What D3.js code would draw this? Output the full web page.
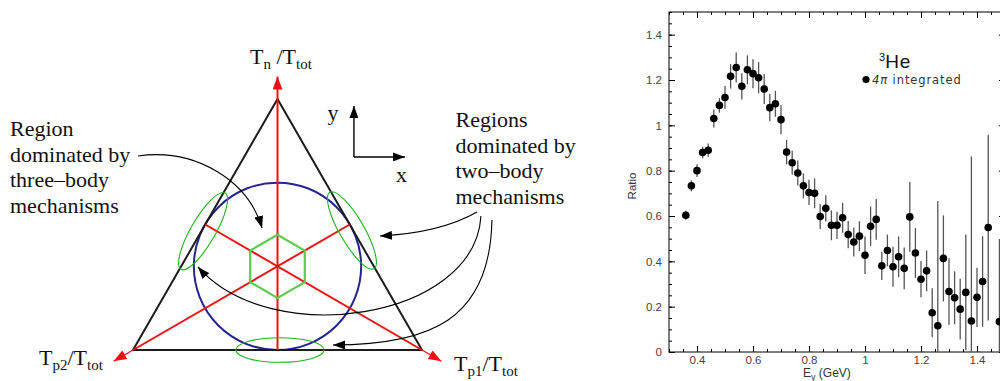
<!DOCTYPE html>
<html lang="en">
<head>
<meta charset="UTF-8">
<title>Three-body regions and 3He ratio</title>
<script src="https://d3js.org/d3.v7.min.js"></script>
<style>
  body { margin: 0; background: #fff; }
  svg { display: block; }
  .serif { font-family: "Liberation Serif", "Times New Roman", serif; fill: #111; }
  .tick text { font-family: "Liberation Sans", Arial, sans-serif; font-size: 11.5px; fill: #444; }
  .sans { font-family: "Liberation Sans", Arial, sans-serif; fill: #333; }
</style>
</head>
<body>
<svg width="1000" height="381"></svg>

<script>
    // ---- right panel data ----
    const energy = [0.36, 0.38, 0.40, 0.42, 0.44, 0.46, 0.48, 0.50, 0.52, 0.54,
                    0.56, 0.58, 0.60, 0.62, 0.64, 0.66, 0.68, 0.70, 0.72, 0.74,
                    0.76, 0.78, 0.80, 0.82, 0.84, 0.86, 0.88, 0.90, 0.92, 0.94,
                    0.96, 0.98, 1.00, 1.02, 1.04, 1.06, 1.08, 1.10, 1.12, 1.14,
                    1.16, 1.18, 1.20, 1.22, 1.24, 1.26, 1.28, 1.30, 1.32, 1.34,
                    1.36, 1.38, 1.40, 1.42, 1.44, 1.48];
    const ratio = [0.603, 0.733, 0.80, 0.88, 0.89, 1.03, 1.088, 1.123, 1.216, 1.255,
                   1.172, 1.245, 1.228, 1.21, 1.16, 1.078, 1.095, 1.025, 0.882, 0.835,
                   0.79, 0.733, 0.704, 0.70, 0.598, 0.634, 0.559, 0.559, 0.592, 0.518,
                   0.485, 0.511, 0.427, 0.555, 0.585, 0.38, 0.448, 0.376, 0.42, 0.369,
                   0.596, 0.437, 0.321, 0.358, 0.173, 0.116, 0.413, 0.267, 0.239, 0.189,
                   0.263, 0.137, 0.241, 0.311, 0.549, 0.134];
    const ratioErr = [0.02, 0.024, 0.028, 0.026, 0.03, 0.04, 0.032, 0.05, 0.054, 0.066,
                      0.058, 0.064, 0.064, 0.069, 0.066, 0.06, 0.057, 0.064, 0.054, 0.053,
                      0.055, 0.055, 0.056, 0.066, 0.055, 0.058, 0.066, 0.06, 0.066, 0.06,
                      0.064, 0.066, 0.083, 0.087, 0.09, 0.062, 0.07, 0.088, 0.09, 0.092,
                      0.154, 0.11, 0.08, 0.09, 0.108, 0.55, 0.19, 0.147, 0.117, 0.134,
                      0.255, 0.725, 0.131, 0.2, 0.41, 0.365];
    const xTickVals = [0.4, 0.6, 0.8, 1.0, 1.2, 1.4];
    const yTickVals = [0, 0.2, 0.4, 0.6, 0.8, 1.0, 1.2, 1.4];

    // ---- left panel texts ----
    const noteThree = ["Region", "dominated by", "three\u2013body", "mechanisms"];
    const noteTwo = ["Regions", "dominated by", "two\u2013body", "mechanisms"];
    const cornerLabels = [
        {sub: "n", gap: " ", x: 250, y: 64},
        {sub: "p2", gap: "", x: 39, y: 365},
        {sub: "p1", gap: "", x: 454, y: 371}
    ];

    let svg = d3.select("svg");
    const s3 = Math.sqrt(3);

    // diagram units: triangle side = 2, base centre at (0,0)
    const tx = d3.scaleLinear().domain([-1, 1]).range([133, 422]);
    const ty = d3.scaleLinear().domain([0, s3]).range([350, 99]);
    const P = (u, v) => [tx(u), ty(v)];
    const unitPx = tx(1) - tx(0);

    const defs = svg.append("defs");
    function head(id, color, len, wid) {
        defs.append("marker").attr("id", id)
            .attr("viewBox", `0 ${-wid / 2} ${len} ${wid}`)
            .attr("refX", len).attr("refY", 0)
            .attr("markerWidth", len).attr("markerHeight", wid)
            .attr("markerUnits", "userSpaceOnUse")
            .attr("orient", "auto")
            .append("path")
            .attr("d", `M0,${-wid / 2}L${len},0L0,${wid / 2}Z`)
            .attr("fill", color);
    }
    head("redHead", "#ee1111", 13, 10);
    head("blackHead", "#000", 12, 9);

    const diag = svg.append("g");

    // inscribed circle
    diag.append("circle")
        .attr("cx", tx(0)).attr("cy", ty(s3 / 3))
        .attr("r", ty(0) - ty(s3 / 3))
        .attr("fill", "none").attr("stroke", "#25258f").attr("stroke-width", 2);

    // triangle
    const verts = [[0, s3], [-1, 0], [1, 0]];
    diag.append("path")
        .attr("d", d3.line()(verts.map(d => P(d[0], d[1]))) + "Z")
        .attr("fill", "none").attr("stroke", "#1c1c1c").attr("stroke-width", 2)
        .attr("stroke-linejoin", "miter");

    // medians, extended past each vertex into an arrow
    const mids = [[0, 0], [0.5, s3 / 2], [-0.5, s3 / 2]];
    verts.forEach(function (v, i) {
        const m = mids[i];
        const dx = v[0] - m[0], dy = v[1] - m[1];
        const len = Math.hypot(dx, dy);
        const tip = [v[0] + 0.155 * dx / len, v[1] + 0.155 * dy / len];
        diag.append("line")
            .attr("x1", tx(m[0])).attr("y1", ty(m[1]))
            .attr("x2", tx(v[0])).attr("y2", ty(v[1]))
            .attr("stroke", "#ee1111").attr("stroke-width", 2);
        diag.append("line")
            .attr("x1", tx(v[0])).attr("y1", ty(v[1]))
            .attr("x2", tx(tip[0])).attr("y2", ty(tip[1]))
            .attr("stroke", "#ee1111").attr("stroke-width", i === 0 ? 2 : 1.2)
            .attr("marker-end", "url(#redHead)");
    });

    // central hexagon
    const hexR = 0.218;
    const hex = d3.range(6).map(k => {
        const a = Math.PI / 2 + k * Math.PI / 3;
        return P(hexR * Math.cos(a), s3 / 3 + hexR * Math.sin(a));
    });
    diag.append("path")
        .attr("d", d3.line()(hex) + "Z")
        .attr("fill", "none").attr("stroke", "#5ccc4c").attr("stroke-width", 2.2);

    // two-body ellipses
    const ellipses = [
        {u: 0.017, v: 0, rot: 0},
        {u: -0.515, v: 0.82, rot: -60},
        {u: 0.515, v: 0.825, rot: 60}
    ];
    diag.selectAll("ellipse.tb").data(ellipses).enter().append("ellipse")
        .attr("transform", d => `translate(${tx(d.u)},${ty(d.v)}) rotate(${d.rot})`)
        .attr("rx", 0.305 * unitPx).attr("ry", 0.085 * unitPx)
        .attr("fill", "none").attr("stroke", "#1db31d").attr("stroke-width", 1.1);

    // annotation arrows
    function curve(pts) {
        const p = d3.path();
        const q = pts.map(d => P(d[0], d[1]));
        p.moveTo(q[0][0], q[0][1]);
        if (q.length === 3) p.quadraticCurveTo(q[1][0], q[1][1], q[2][0], q[2][1]);
        else p.bezierCurveTo(q[1][0], q[1][1], q[2][0], q[2][1], q[3][0], q[3][1]);
        return p.toString();
    }
    const arrows = [
        [[-0.965, 1.339], [-0.571, 1.394], [-0.204, 1.173], [-0.107, 0.842]],
        [[1.381, 0.952], [1.125, 0.807], [0.709, 0.787]],
        [[1.408, 0.925], [1.367, 0.207], [-0.052, 0.0], [-0.55, 0.573]],
        [[1.484, 0.897], [1.471, 0.207], [1.055, 0.035], [0.384, 0.035]]
    ];
    diag.selectAll("path.note").data(arrows).enter().append("path")
        .attr("d", curve)
        .attr("fill", "none").attr("stroke", "#000").attr("stroke-width", 1.1)
        .attr("marker-end", "url(#blackHead)");

    // small x/y frame
    const o = [0.529, 1.332];
    diag.append("line")
        .attr("x1", tx(o[0])).attr("y1", ty(o[1]))
        .attr("x2", tx(o[0])).attr("y2", ty(1.684))
        .attr("stroke", "#000").attr("stroke-width", 1.4)
        .attr("marker-end", "url(#blackHead)");
    diag.append("line")
        .attr("x1", tx(o[0])).attr("y1", ty(o[1]))
        .attr("x2", tx(0.882)).attr("y2", ty(o[1]))
        .attr("stroke", "#000").attr("stroke-width", 1.4)
        .attr("marker-end", "url(#blackHead)");
    diag.append("text").attr("class", "serif").attr("x", 333).attr("y", 120)
        .attr("text-anchor", "middle").style("font-size", "22px").text("y");
    diag.append("text").attr("class", "serif").attr("x", 401.5).attr("y", 181.5)
        .attr("text-anchor", "middle").style("font-size", "22px").text("x");

    // note texts
    function note(lines, x, y0) {
        const t = diag.append("text").attr("class", "serif").style("font-size", "22px");
        lines.forEach((s, i) => t.append("tspan").attr("x", x).attr("y", y0 + i * 25.6).text(s));
    }
    note(noteThree, 10, 136);
    note(noteTwo, 455.5, 127);

    // corner labels T_x / T_tot
    cornerLabels.forEach(function (c) {
        const t = diag.append("text").attr("class", "serif")
            .attr("x", c.x).attr("y", c.y).style("font-size", "22px");
        t.append("tspan").text("T");
        t.append("tspan").attr("dy", 4.5).style("font-size", "15px").text(c.sub);
        t.append("tspan").attr("dy", -4.5).text(c.gap + "/T");
        t.append("tspan").attr("dy", 4.5).style("font-size", "15px").text("tot");
    });

    // ---- right panel ----
    const xS = d3.scaleLinear().domain([0.3, 1.5]).range([669, 1005]);
    const yS = d3.scaleLinear().domain([0, 1.5]).range([352, 12]);
    const fmt = d => String(+d.toFixed(1));
    const chart = svg.append("g");

    defs.append("clipPath").attr("id", "plotClip").append("rect")
        .attr("x", xS(0.3)).attr("y", yS(1.5))
        .attr("width", xS(1.5) - xS(0.3)).attr("height", yS(0) - yS(1.5));

    function axisG(axis, tr) {
        const g = chart.append("g").attr("transform", tr).call(axis);
        g.select(".domain").remove();
        g.selectAll(".tick line").attr("stroke", "#000");
        return g;
    }
    const xMinor = xS.ticks(24), yMinor = yS.ticks(30);
    axisG(d3.axisBottom(xS).tickValues(xMinor).tickSize(-3).tickFormat(""), `translate(0,${yS(0)})`);
    axisG(d3.axisTop(xS).tickValues(xMinor).tickSize(-3).tickFormat(""), `translate(0,${yS(1.5)})`);
    axisG(d3.axisLeft(yS).tickValues(yMinor).tickSize(-3).tickFormat(""), `translate(${xS(0.3)},0)`);
    axisG(d3.axisRight(yS).tickValues(yMinor).tickSize(-3).tickFormat(""), `translate(${xS(1.5)},0)`);
    axisG(d3.axisBottom(xS).tickValues(xTickVals).tickSize(-6).tickPadding(4).tickFormat(fmt), `translate(0,${yS(0)})`);
    axisG(d3.axisTop(xS).tickValues(xTickVals).tickSize(-6).tickFormat(""), `translate(0,${yS(1.5)})`);
    axisG(d3.axisLeft(yS).tickValues(yTickVals).tickSize(-6).tickPadding(7).tickFormat(fmt), `translate(${xS(0.3)},0)`);
    axisG(d3.axisRight(yS).tickValues(yTickVals).tickSize(-6).tickFormat(""), `translate(${xS(1.5)},0)`);

    chart.append("rect")
        .attr("x", xS(0.3)).attr("y", yS(1.5))
        .attr("width", xS(1.5) - xS(0.3)).attr("height", yS(0) - yS(1.5))
        .attr("fill", "none").attr("stroke", "#000").attr("stroke-width", 1);

    const pts = energy.map((e, i) => ({e: e, r: ratio[i], err: ratioErr[i]}));
    const plot = chart.append("g").attr("clip-path", "url(#plotClip)");
    plot.selectAll("line.err").data(pts).enter().append("line")
        .attr("x1", d => xS(d.e)).attr("x2", d => xS(d.e))
        .attr("y1", d => yS(d.r - d.err)).attr("y2", d => yS(d.r + d.err))
        .attr("stroke", "#555").attr("stroke-width", 1.3);
    plot.selectAll("circle.pt").data(pts).enter().append("circle")
        .attr("cx", d => xS(d.e)).attr("cy", d => yS(d.r)).attr("r", 3.8)
        .attr("fill", "#000");

    // axis titles
    chart.append("text").attr("class", "sans")
        .attr("transform", `translate(636,186) rotate(-90)`)
        .attr("text-anchor", "middle").style("font-size", "11.5px").attr("fill", "#444")
        .text("Ratio");
    const xt = chart.append("text").attr("class", "sans")
        .attr("x", 803).attr("y", 377).style("font-size", "12px");
    xt.append("tspan").text("E");
    xt.append("tspan").attr("dy", 2.5).style("font-size", "9px").text("\u03b3");
    xt.append("tspan").attr("dy", -2.5).text(" (GeV)");

    // legend
    const lg = chart.append("text").attr("class", "sans").attr("x", 879).attr("y", 68)
        .style("fill", "#111");
    lg.append("tspan").attr("dy", -7).style("font-size", "11px").text("3");
    lg.append("tspan").attr("dy", 7).style("font-size", "19px").style("letter-spacing", "1px").text("He");
    chart.append("circle").attr("cx", 866).attr("cy", 79.5).attr("r", 3.6).attr("fill", "#000");
    const lt = chart.append("text").attr("x", 872).attr("y", 83.5)
        .style("font-family", "'DejaVu Sans', sans-serif").style("font-size", "11.5px")
        .style("fill", "#333").style("letter-spacing", "0.9px");
    lt.append("tspan").style("font-style", "italic").text("4\u03c0");
    lt.append("tspan").text(" integrated");
</script>
</body>
</html>
